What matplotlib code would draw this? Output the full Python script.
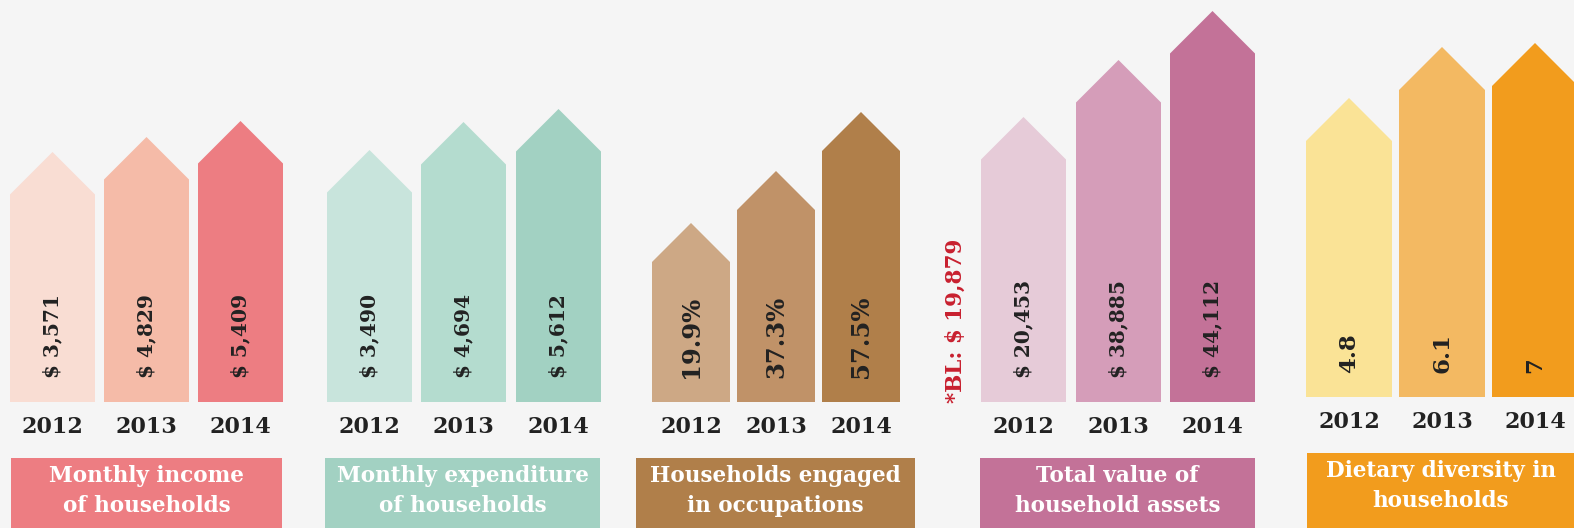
### PLOTTING IMPORTS ###

import matplotlib.pyplot as plt

### PLOTTING DATA ###

# Years Shown Under Every Arrow:
years = ['2012', '2013', '2014']

# Indicator Panels:
panels = [
  {'title': ['Monthly income', 'of households'],
   'values': ['$ 3,571', '$ 4,829', '$ 5,409'], 'size': 14.5,
   'heights': [250, 265, 281],
   'lefts': [10, 104, 198], 'width': 85, 'base': 402,
   'box': [11, 282, 458],
   'colors': ['#f9ddd3', '#f5bba8', '#ed7d82']},
  {'title': ['Monthly expenditure', 'of households'],
   'values': ['$ 3,490', '$ 4,694', '$ 5,612'], 'size': 14.5,
   'heights': [252, 280, 293],
   'lefts': [327, 421, 516], 'width': 85, 'base': 402,
   'box': [325, 600, 458],
   'colors': ['#c8e4dc', '#b4dccf', '#a2d1c2']},
  {'title': ['Households engaged', 'in occupations'],
   'values': ['19.9%', '37.3%', '57.5%'], 'size': 17.5,
   'heights': [179, 231, 290],
   'lefts': [652, 737, 822], 'width': 78, 'base': 402,
   'box': [636, 915, 458],
   'colors': ['#cda885', '#c09268', '#b07f4a']},
  {'title': ['Total value of', 'household assets'],
   'values': ['$ 20,453', '$ 38,885', '$ 44,112'], 'size': 14.5,
   'heights': [285, 342, 391],
   'lefts': [981, 1076, 1170], 'width': 85, 'base': 402,
   'box': [980, 1255, 458],
   'colors': ['#e6cbd8', '#d59db9', '#c37298']},
  {'title': ['Dietary diversity in', 'households'],
   'values': ['4.8', '6.1', '7'], 'size': 16.5,
   'heights': [299, 350, 354],
   'lefts': [1306, 1399, 1492], 'width': 86, 'base': 397,
   'box': [1307, 1574, 453],
   'colors': ['#fae396', '#f3b962', '#f29c1d']},
]

# Baseline Note:
baseline_note = '*BL: $ 19,879'

plt.rcParams['font.family'] = 'DejaVu Serif'
plt.rcParams['font.weight'] = 'bold'

### PLOTTING FUNCTIONS ###

# Draw One Arrow Bar:
def draw_arrow(left, width, base, height, color):
  half = width / 2
  tip = base - height
  xs = [left, left, left + half, left + width, left + width]
  ys = [base, tip + half, tip, tip + half, base]
  plt.fill(xs, ys, color=color, linewidth=0)

# Draw One Panel:
def draw_panel(panel):
  base = panel['base']
  width = panel['width']
  for i in range(len(years)):
    left = panel['lefts'][i]
    center = left + width / 2
    draw_arrow(left, width, base, panel['heights'][i], panel['colors'][i])
    plt.text(center, base - 24, panel['values'][i], rotation=90,
             ha='center', va='bottom', fontsize=panel['size'], color='#222222')
    plt.text(center, base + 25, years[i], ha='center', va='center',
             fontsize=16, color='#222222')

  x0, x1, top = panel['box']
  plt.fill([x0, x1, x1, x0], [top, top, 528, 528],
           color=panel['colors'][2], linewidth=0)
  mid = (x0 + min(x1, 1574)) / 2
  plt.text(mid, top + 18, panel['title'][0], ha='center', va='center',
           fontsize=15.5, color='white')
  plt.text(mid, top + 48, panel['title'][1], ha='center', va='center',
           fontsize=15.5, color='white')

### RUN PLOTTING ###

plt.figure(figsize=(15.74, 5.28), dpi=100, facecolor='#f5f5f5')
plt.axes([0, 0, 1, 1], facecolor='#f5f5f5')

for panel in panels:
  draw_panel(panel)

plt.text(956, 403, baseline_note, rotation=90, ha='center', va='bottom',
         fontsize=15.5, color='#c8202f')

plt.xlim(0, 1574)
plt.ylim(528, 0)
plt.axis('off')
plt.savefig('out.png', dpi=100, facecolor='#f5f5f5')
